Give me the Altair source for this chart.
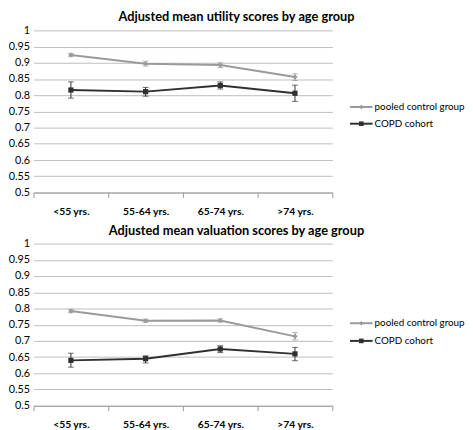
import altair as alt
import pandas as pd

ages = ["<55 yrs.", "55-64 yrs.", "65-74 yrs.", ">74 yrs."]
series_names = ["pooled control group", "COPD cohort"]

util_pooled = [0.924, 0.897, 0.893, 0.856]
util_pooled_lo = [0.919, 0.890, 0.885, 0.845]
util_pooled_hi = [0.929, 0.905, 0.900, 0.866]
util_copd = [0.816, 0.811, 0.830, 0.806]
util_copd_lo = [0.791, 0.797, 0.819, 0.781]
util_copd_hi = [0.841, 0.824, 0.841, 0.831]

val_pooled = [0.792, 0.762, 0.763, 0.714]
val_pooled_lo = [0.787, 0.757, 0.758, 0.703]
val_pooled_hi = [0.797, 0.767, 0.768, 0.726]
val_copd = [0.640, 0.645, 0.675, 0.660]
val_copd_lo = [0.619, 0.632, 0.664, 0.639]
val_copd_hi = [0.662, 0.654, 0.685, 0.680]

y_ticks = [0.5, 0.55, 0.6, 0.65, 0.7, 0.75, 0.8, 0.85, 0.9, 0.95, 1.0]

FONT = "Lato"
colors = ["#a6a6a6", "#000000"]
bar_colors = ["#9a9a9a", "#303030"]
shapes = ["diamond", "square"]
H = 165
NOVIEW = alt.ViewBackground(stroke="transparent", strokeWidth=0)


def make_df(pooled, plo, phi, copd, clo, chi):
    rows = []
    for i, a in enumerate(ages):
        rows.append(dict(age=a, series=series_names[0], v=pooled[i], lo=plo[i], hi=phi[i]))
        rows.append(dict(age=a, series=series_names[1], v=copd[i], lo=clo[i], hi=chi[i]))
    return pd.DataFrame(rows)


def panel(title, df, leg_range):
    x = alt.X(
        "age:N",
        sort=ages,
        bandPosition=0.5,
        scale=alt.Scale(type="band", domain=ages, paddingInner=0, paddingOuter=0),
        axis=alt.Axis(
            title=None, labelAngle=0, tickBand="extent", grid=False,
            domainColor="#9a9a9a", tickColor="#9a9a9a", tickSize=5,
            labelFont=FONT, labelFontSize=10.5, labelFontWeight="bold",
            labelColor="#000000", labelPadding=9,
        ),
    )
    yscale = alt.Scale(domain=[0.5, 1.0], nice=False, zero=False)
    yaxis = alt.Axis(
        title=None, values=y_ticks, format=".2~f", domain=False, ticks=False,
        gridColor="#bdbdbd", labelFont=FONT, labelFontSize=11, labelOverlap=False,
        labelColor="#000000", labelPadding=4,
    )
    y = alt.Y("v:Q", scale=yscale, axis=yaxis)
    color = alt.Color("series:N", scale=alt.Scale(domain=series_names, range=colors), legend=None)
    bcolor = alt.Color("series:N", scale=alt.Scale(domain=series_names, range=bar_colors), legend=None)
    shape = alt.Shape("series:N", scale=alt.Scale(domain=series_names, range=shapes), legend=None)

    base = alt.Chart(df)
    whisk = base.mark_rule(strokeWidth=1).encode(
        x=x, y=alt.Y("lo:Q", scale=yscale, axis=yaxis), y2="hi:Q", color=bcolor)
    cap_lo = base.mark_tick(size=6, thickness=1).encode(
        x=x, y=alt.Y("lo:Q", scale=yscale, axis=yaxis), color=bcolor)
    cap_hi = base.mark_tick(size=6, thickness=1).encode(
        x=x, y=alt.Y("hi:Q", scale=yscale, axis=yaxis), color=bcolor)
    line = base.mark_line(strokeWidth=2).encode(x=x, y=y, color=color, detail="series:N")
    pts = base.mark_point(filled=True, size=28, opacity=1).encode(
        x=x, y=y, color=color, shape=shape)

    plot = alt.layer(whisk, cap_lo, cap_hi, line, pts).properties(
        width=304, height=H, view=NOVIEW)

    leg_df = pd.DataFrame({"series": series_names})
    ly = alt.Y("series:N", sort=series_names,
               scale=alt.Scale(type="point", domain=series_names, range=leg_range, padding=0),
               axis=None)
    lbase = alt.Chart(leg_df)
    lrule = lbase.mark_rule(strokeWidth=2).encode(
        x=alt.value(0), x2=alt.value(23), y=ly, color=color)
    lpt = lbase.mark_point(filled=True, size=22, opacity=1).encode(
        x=alt.value(11.5), y=ly, color=color, shape=shape)
    ltxt = lbase.mark_text(align="left", baseline="middle", font=FONT, fontSize=10,
                           color="#000000").encode(
        x=alt.value(25), y=ly, text="series:N")
    legend = alt.layer(lrule, lpt, ltxt).properties(width=110, height=H, view=NOVIEW)

    return alt.hconcat(plot, legend, spacing=16).properties(
        title=alt.TitleParams(title, font=FONT, fontSize=13, fontWeight="bold",
                              anchor="middle", offset=0, color="#000000")
    )


top = panel("Adjusted mean utility scores by age group",
            make_df(util_pooled, util_pooled_lo, util_pooled_hi, util_copd, util_copd_lo, util_copd_hi),
            [78, 95])
bottom = panel("Adjusted mean valuation scores by age group",
               make_df(val_pooled, val_pooled_lo, val_pooled_hi, val_copd, val_copd_lo, val_copd_hi),
               [81, 99])

chart = alt.vconcat(top, bottom, spacing=8).properties(padding=0).configure_view(
    stroke="transparent", strokeWidth=0).configure(background="#ffffff")

chart.save("out.html", embed_options={"renderer": "svg", "actions": False})
